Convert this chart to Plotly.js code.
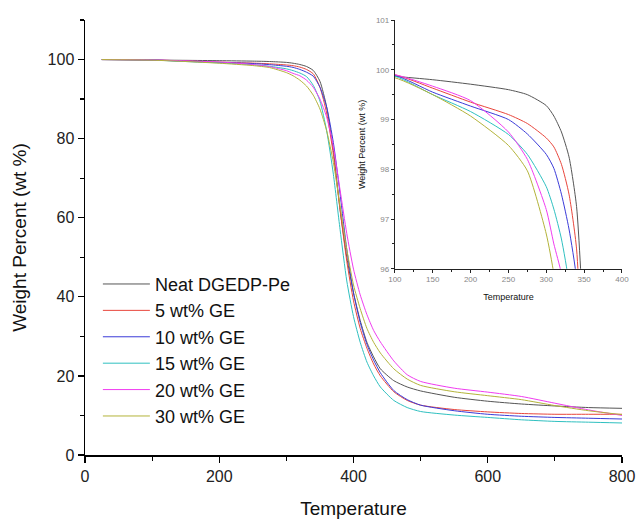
<!DOCTYPE html>
<html>
<head>
<meta charset="utf-8">
<script src="https://cdn.plot.ly/plotly-3.0.1.min.js"></script>
<style>html,body{margin:0;padding:0;background:#fff}#chart{width:639px;height:526px}</style>
</head>
<body>
<div id="chart"></div>
<script>
// Shared temperature grid (°C)
const temperature = [25, 100, 150, 200, 250, 275, 300, 310, 320, 330, 340, 350, 360, 370, 380, 390, 400, 410, 420, 430, 440, 460, 480, 500, 550, 600, 650, 700, 750, 800];

// Weight percent per sample
const neat   = [100, 99.87, 99.8, 99.71, 99.6, 99.5, 99.28, 99.07, 98.75, 98.25, 97.25, 94.5, 88, 77, 62, 50, 41, 34, 28.5, 24.8, 21.8, 18.8, 17.2, 16.2, 14.6, 13.6, 12.9, 12.4, 12.0, 11.8];
const ge5    = [100, 99.9, 99.63, 99.35, 99.1, 98.92, 98.63, 98.45, 98.1, 97.5, 96.4, 93, 86.5, 76, 62, 49, 39, 32, 27, 23, 20, 16, 13.8, 12.6, 11.5, 10.9, 10.5, 10.3, 10.3, 10.3];
const ge10   = [100, 99.89, 99.55, 99.27, 99.0, 98.71, 98.3, 98.02, 97.5, 96.8, 95.8, 93, 88, 79, 66, 52, 41, 33.5, 28, 24, 20.8, 16.3, 14, 12.6, 11.2, 10.3, 9.8, 9.5, 9.3, 9.1];
const ge15   = [100, 99.87, 99.5, 99.16, 98.7, 98.3, 97.65, 97.2, 96.6, 95.7, 93.5, 89.5, 82, 71, 57, 44, 35, 28.5, 23.5, 20, 17.2, 13.8, 12, 11, 10.1, 9.5, 8.9, 8.5, 8.3, 8.1];
const ge20   = [100, 99.9, 99.67, 99.38, 98.75, 98.2, 97.19, 96.5, 95.9, 94.8, 93, 90, 85.5, 78, 67, 56, 47, 40.5, 35.5, 31.5, 28.6, 23.8, 20.3, 18.6, 16.9, 15.9, 14.8, 13.1, 11.4, 10];
const ge30   = [100, 99.84, 99.5, 99.07, 98.48, 97.97, 96.7, 95.9, 94.8, 93.3, 91, 87.5, 82, 74, 63, 52, 43, 37, 32, 28.5, 25.8, 21.8, 19.2, 17.6, 16, 15, 14, 12.5, 11.2, 10.2];

const seriesNames = ["Neat DGEDP-Pe", "5 wt% GE", "10 wt% GE", "15 wt% GE", "20 wt% GE", "30 wt% GE"];
const seriesValues = [neat, ge5, ge10, ge15, ge20, ge30];
const seriesColors = ["#555555", "#e8463c", "#3b3bd8", "#2fc0c0", "#f03cf0", "#b3b33a"];

const traces = [];
seriesValues.forEach((vals, i) => {
  traces.push({
    x: temperature, y: vals, name: seriesNames[i], type: "scatter", mode: "lines",
    line: {color: seriesColors[i], width: 1, shape: "spline", smoothing: 0.6},
    xaxis: "x", yaxis: "y", legendgroup: "g" + i
  });
});
seriesValues.forEach((vals, i) => {
  traces.push({
    x: temperature, y: vals, name: seriesNames[i], type: "scatter", mode: "lines",
    line: {color: seriesColors[i], width: 1, shape: "spline", smoothing: 0.6},
    xaxis: "x2", yaxis: "y2", showlegend: false, hoverinfo: "skip"
  });
});

const mainFont = {family: "Liberation Sans, Arial, sans-serif", size: 16, color: "#222"};
const insetTick = {family: "Liberation Sans, Arial, sans-serif", size: 8, color: "#888"};

const layout = {
  width: 639, height: 526,
  margin: {l: 85, r: 17, t: 20, b: 71},
  paper_bgcolor: "#fff", plot_bgcolor: "rgba(0,0,0,0)",
  showlegend: true,
  legend: {
    x: 0.024, y: 0.435, xanchor: "left", yanchor: "top",
    font: {family: "Liberation Sans, Arial, sans-serif", size: 18, color: "#111"},
    bgcolor: "rgba(0,0,0,0)", borderwidth: 0, itemwidth: 47,
    traceorder: "grouped", tracegroupgap: 0
  },
  xaxis: {
    domain: [0, 1], range: [0, 800], dtick: 200, tick0: 0,
    showline: true, linecolor: "#000", linewidth: 1.5, mirror: false,
    ticks: "outside", ticklen: 6, tickwidth: 1.2, tickcolor: "#000",
    minor: {dtick: 100, ticks: "outside", ticklen: 4, tickcolor: "#000"},
    showgrid: false, zeroline: false, tickfont: mainFont,
    title: {text: "Temperature", font: {family: "Liberation Sans, Arial, sans-serif", size: 19, color: "#111"}, standoff: 18}
  },
  yaxis: {
    domain: [0, 1], range: [0, 110], dtick: 20, tick0: 0,
    showline: true, linecolor: "#000", linewidth: 1.5, mirror: false,
    ticks: "outside", ticklen: 6, tickwidth: 1.2, tickcolor: "#000",
    minor: {dtick: 10, ticks: "outside", ticklen: 4, tickcolor: "#000"},
    showgrid: false, zeroline: false, tickfont: mainFont,
    title: {text: "Weight Percent (wt %)", font: {family: "Liberation Sans, Arial, sans-serif", size: 19, color: "#111"}, standoff: 16}
  },
  xaxis2: {
    domain: [0.577, 1], range: [100, 400], dtick: 50, tick0: 100, anchor: "y2",
    showline: true, linecolor: "#222", linewidth: 1, mirror: false,
    ticks: "outside", ticklen: 3, tickwidth: 1, tickcolor: "#222",
    minor: {dtick: 25, ticks: "outside", ticklen: 2, tickcolor: "#222"},
    showgrid: false, zeroline: false, tickfont: insetTick,
    title: {text: "Temperature", font: {family: "Liberation Sans, Arial, sans-serif", size: 9, color: "#111"}, standoff: 10}
  },
  yaxis2: {
    domain: [0.428, 1], range: [96, 101], dtick: 1, tick0: 96, anchor: "x2",
    showline: true, linecolor: "#222", linewidth: 1, mirror: false,
    ticks: "outside", ticklen: 3, tickwidth: 1, tickcolor: "#222",
    minor: {dtick: 0.5, ticks: "outside", ticklen: 2, tickcolor: "#222"},
    showgrid: false, zeroline: false, tickfont: insetTick,
    title: {text: "Weight Percent (wt %)", font: {family: "Liberation Sans, Arial, sans-serif", size: 9, color: "#111"}, standoff: 8}
  }
};

Plotly.newPlot("chart", traces, layout, {displayModeBar: false, staticPlot: true});
</script>
</body>
</html>
